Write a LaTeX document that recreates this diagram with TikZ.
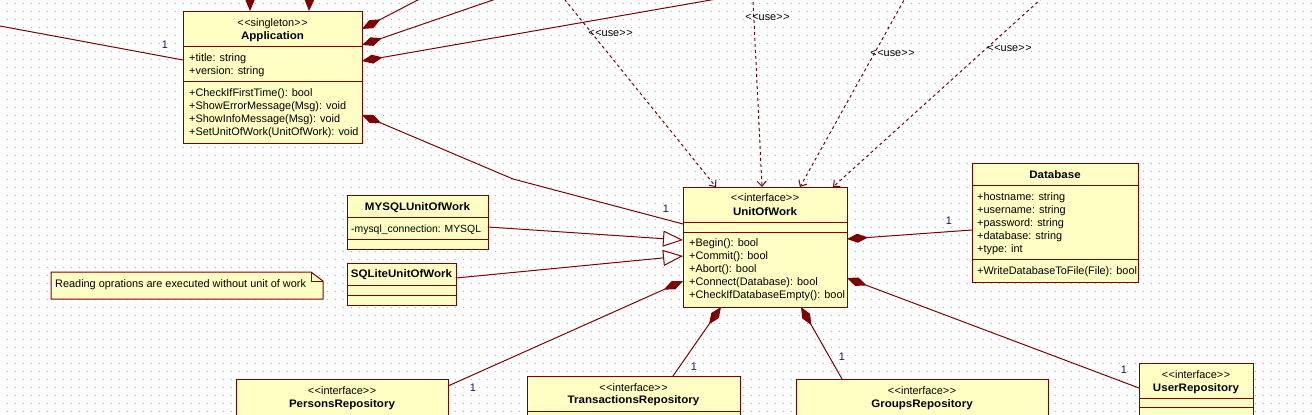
\documentclass[tikz,border=0pt]{standalone}
\usepackage{fontspec}
\setmainfont{Liberation Sans}[BoldFeatures={FakeStretch=1.06}]
\usetikzlibrary{arrows.meta,calc}
\definecolor{umlred}{RGB}{128,0,0}
\definecolor{boxfill}{RGB}{255,255,196}
\definecolor{dotgray}{RGB}{175,175,175}
\definecolor{multblue}{RGB}{20,20,110}
\newcommand\gql{<\kern0.6pt<}
\newcommand\gqr{>\kern0.6pt>}
\tikzset{
  classbox/.style={draw=umlred, fill=boxfill, line width=1pt, rectangle, inner sep=0pt, outer sep=0pt, anchor=north west},
  sepline/.style={draw=umlred, line width=1pt},
  txt/.style={anchor=base west, inner sep=0pt},
  ttl/.style={anchor=base, inner sep=0pt},
  ttlb/.style={anchor=base, inner sep=0pt, font=\fontsize{10.9}{13}\selectfont\bfseries},
  assoc/.style={draw=umlred, line width=1pt},
  comp/.style={assoc, arrows={Diamond[length=21pt,width=9pt]-}},
  dep/.style={draw=umlred, line width=1pt, dash pattern=on 3pt off 3pt, arrows={-Straight Barb[length=5pt,width=9pt]}},
  gen/.style={assoc, arrows={-Triangle[open,length=20pt,width=16pt,fill=white]}},
  mult/.style={inner sep=0pt, text=multblue},
  uselbl/.style={inner sep=0pt},
  dotrow/.style={draw=dotgray, line width=1pt, dash pattern=on 1pt off 7pt, dash phase=1pt},
}
\begin{document}
\begin{tikzpicture}[x=1pt,y=-1pt,font=\fontsize{10.9}{13}\selectfont]
\useasboundingbox (0,0) rectangle (1312,415);
\clip (0,0) rectangle (1312,415);
\fill[white] (0,0) rectangle (1312,415);
\foreach \yy in {3.5,11.5,...,411.5} \draw[dotrow] (0,\yy) -- (1312,\yy);

% ---------- Application ----------
\node[classbox, minimum width=179pt, minimum height=132pt] (app) at (183,11) {};
\draw[sepline] ($(app.north west)+(0,35)$) -- ($(app.north east)+(0,35)$);
\draw[sepline] ($(app.north west)+(0,70)$) -- ($(app.north east)+(0,70)$);
\node[ttl] (aS) at (272.5,26.5) {\gql singleton\gqr};
\node[ttlb] (aN) at (272.5,39) {Application};
\node[txt] (a1) at (189,61.5) {+title: string};
\node[txt] (a2) at (189,74.5) {+version: string};
\node[txt] (a3) at (189,96) {+CheckIfFirstTime(): bool};
\node[txt] (a4) at (189,109) {+ShowErrorMessage(Msg): void};
\node[txt] (a5) at (189,122) {+ShowInfoMessage(Msg): void};
\node[txt] (a6) at (189,135) {+SetUnitOfWork(UnitOfWork): void};

% ---------- UnitOfWork ----------
\node[classbox, minimum width=164pt, minimum height=120pt] (uow) at (683,187) {};
\draw[sepline] ($(uow.north west)+(0,35)$) -- ($(uow.north east)+(0,35)$);
\draw[sepline] ($(uow.north west)+(0,45)$) -- ($(uow.north east)+(0,45)$);
\node[ttl] (uS) at (765,201.5) {\gql interface\gqr};
\node[ttlb] (uN) at (765,215) {UnitOfWork};
\node[txt] (u1) at (689,246.5) {+Begin(): bool};
\node[txt] (u2) at (689,259.5) {+Commit(): bool};
\node[txt] (u3) at (689,272.5) {+Abort(): bool};
\node[txt] (u4) at (689,285.5) {+Connect(Database): bool};
\node[txt] (u5) at (689,298.5) {+CheckIfDatabaseEmpty(): bool};

% ---------- MYSQLUnitOfWork ----------
\node[classbox, minimum width=141pt, minimum height=54pt] (mysql) at (347,195) {};
\draw[sepline] ($(mysql.north west)+(0,22)$) -- ($(mysql.north east)+(0,22)$);
\draw[sepline] ($(mysql.north west)+(0,44)$) -- ($(mysql.north east)+(0,44)$);
\node[ttlb] (mN) at (417.5,210) {MYSQLUnitOfWork};
\node[txt, font=\fontsize{10.4}{13}\selectfont] (m1) at (351,232.5) {-mysql\_connection: MYSQL};

% ---------- SQLiteUnitOfWork ----------
\node[classbox, minimum width=109pt, minimum height=42pt] (sqlite) at (347,263) {};
\draw[sepline] ($(sqlite.north west)+(0,22)$) -- ($(sqlite.north east)+(0,22)$);
\draw[sepline] ($(sqlite.north west)+(0,32)$) -- ($(sqlite.north east)+(0,32)$);
\node[ttlb] (sN) at (401.5,277.5) {SQLiteUnitOfWork};

% ---------- Database ----------
\node[classbox, minimum width=166pt, minimum height=119pt] (db) at (972,163) {};
\draw[sepline] ($(db.north west)+(0,22)$) -- ($(db.north east)+(0,22)$);
\draw[sepline] ($(db.north west)+(0,96)$) -- ($(db.north east)+(0,96)$);
\node[ttlb] (dN) at (1055,178) {Database};
\node[txt] (d1) at (977,200.5) {+hostname: string};
\node[txt] (d2) at (977,213.5) {+username: string};
\node[txt] (d3) at (977,226.5) {+password: string};
\node[txt] (d4) at (977,239.5) {+database: string};
\node[txt] (d5) at (977,252.5) {+type: int};
\node[txt] (d6) at (977,274.5) {+WriteDatabaseToFile(File): bool};

% ---------- UserRepository ----------
\node[classbox, minimum width=114pt, minimum height=80pt] (user) at (1139,363) {};
\draw[sepline] ($(user.north west)+(0,35)$) -- ($(user.north east)+(0,35)$);
\draw[sepline] ($(user.north west)+(0,44)$) -- ($(user.north east)+(0,44)$);
\node[ttl] (rS) at (1196,378) {\gql interface\gqr};
\node[ttlb] (rN) at (1196,391.5) {UserRepository};

% ---------- GroupsRepository ----------
\node[classbox, minimum width=252pt, minimum height=60pt] (groups) at (796,379) {};
\node[ttl] (gS) at (922,394) {\gql interface\gqr};
\node[ttlb] (gN) at (922,407.5) {GroupsRepository};

% ---------- TransactionsRepository ----------
\node[classbox, minimum width=213pt, minimum height=60pt] (trans) at (527,376) {};
\draw[sepline] ($(trans.north west)+(0,35)$) -- ($(trans.north east)+(0,35)$);
\node[ttl] (tS) at (633.5,391) {\gql interface\gqr};
\node[ttlb] (tN) at (633.5,403.5) {TransactionsRepository};

% ---------- PersonsRepository ----------
\node[classbox, minimum width=212pt, minimum height=60pt] (persons) at (236,379) {};
\node[ttl] (pS) at (342,394.5) {\gql interface\gqr};
\node[ttlb] (pN) at (342,407.5) {PersonsRepository};

% ---------- Note ----------
\draw[draw=umlred, fill=boxfill, line width=1pt] (51,272) -- (311,272) -- (323,281) -- (323,299) -- (51,299) -- cycle;
\draw[draw=umlred, line width=1pt] (311,272) -- (311,281) -- (323,281);
\node[txt] (nT) at (55,287) {Reading oprations are executed without unit of work};

% ---------- connectors ----------
\coordinate (L0) at (0,26);
\draw[assoc] (L0) -- ($(app.north west)+(0,49)$);
\node[mult] (m0) at (165,45) {1};

\coordinate (T1) at (250,-40);
\coordinate (T2) at (311,-40);
\draw[comp] ($(app.north west)+(67,0)$) -- (T1);
\draw[comp] ($(app.north west)+(126,0)$) -- (T2);

\coordinate (R1) at (437,-10);
\coordinate (R2) at (522,-10);
\coordinate (R3) at (768,-10);
\draw[comp] ($(app.north east)+(0,18)$) -- (R1);
\draw[comp] ($(app.north east)+(0,34)$) -- (R2);
\draw[comp] ($(app.north east)+(0,50)$) -- (R3);

\draw[comp] ($(app.north east)+(0,104)$) -- (513,179) -- ($(uow.north west)+(0,37)$);
\node[mult] (m1l) at (666,209) {1};

\coordinate (D1) at (557,-10);
\coordinate (D2) at (752.5,-10);
\coordinate (D3) at (909.6,-10);
\coordinate (D4) at (1051,-10);
\draw[dep] (D1) -- ($(uow.north west)+(33,0)$);
\draw[dep] (D2) -- ($(uow.north west)+(79,0)$);
\draw[dep] (D3) -- ($(uow.north west)+(117,0)$);
\draw[dep] (D4) -- ($(uow.north west)+(150,0)$);
\node[uselbl] (use1) at (610.5,33) {\gql use\gqr};
\node[uselbl] (use2) at (767.5,17.3) {\gql use\gqr};
\node[uselbl] (use3) at (892.5,53.3) {\gql use\gqr};
\node[uselbl] (use4) at (1009.5,48.3) {\gql use\gqr};

\draw[gen] ($(mysql.north east)+(0,32)$) -- ($(uow.north west)+(0,53)$);
\draw[gen] ($(sqlite.north east)+(0,15)$) -- ($(uow.north west)+(0,69)$);

\draw[comp] ($(uow.north east)+(0,52)$) -- ($(db.north west)+(0,67)$);
\node[mult] (m2) at (949,221) {1};
\draw[comp] ($(uow.north east)+(0,91)$) -- ($(user.north west)+(0,25)$);
\node[mult] (m3) at (1124,370) {1};
\draw[comp] ($(uow.south west)+(118,0)$) -- ($(groups.north west)+(46,0)$);
\node[mult] (m4) at (842,357) {1};
\draw[comp] ($(uow.south west)+(38,0)$) -- ($(trans.north west)+(146,0)$);
\node[mult] (m5) at (694,367) {1};
\draw[comp] ($(uow.north west)+(0,94)$) -- ($(persons.north east)+(0,7)$);
\node[mult] (m6) at (473,388) {1};
\end{tikzpicture}
\end{document}
